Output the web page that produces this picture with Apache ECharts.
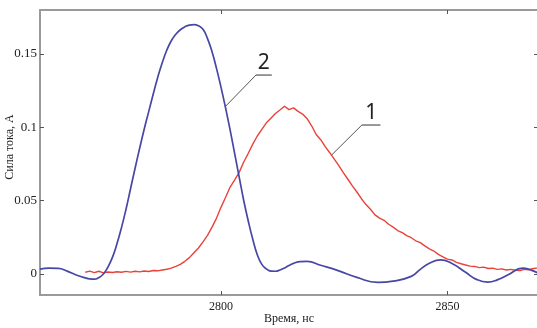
<!DOCTYPE html>
<html>
<head>
<meta charset="utf-8">
<script src="https://cdn.jsdelivr.net/npm/echarts@6/dist/echarts.min.js"></script>
<style>
  html, body { margin: 0; padding: 0; background: #ffffff; }
  #chart { width: 537px; height: 328px; }
</style>
</head>
<body>
<div id="chart"></div>
<script>
// Curve 1 (red): current sampled once per ns, starting at 2770 ns
const redStartTime = 2770;
const redValues = [
  0.0010, 0.0018, 0.0008, 0.0017, 0.0006, 0.0012, 0.0009, 0.0014, 0.0010, 0.0016,
  0.0011, 0.0017, 0.0013, 0.0019, 0.0015, 0.0022, 0.0020, 0.0026, 0.0031, 0.0038,
  0.0050, 0.0064, 0.0085, 0.0110, 0.0143, 0.0176, 0.0218, 0.0262, 0.0318, 0.0380,
  0.0455, 0.0522, 0.0592, 0.0640, 0.0692, 0.0763, 0.0822, 0.0885, 0.0940, 0.0985,
  0.1030, 0.1062, 0.1094, 0.1118, 0.1143, 0.1120, 0.1132, 0.1108, 0.1090, 0.1058,
  0.1010, 0.0950, 0.0915, 0.0868, 0.0826, 0.0782, 0.0738, 0.0690, 0.0645, 0.0600,
  0.0558, 0.0512, 0.0472, 0.0440, 0.0402, 0.0380, 0.0365, 0.0338, 0.0318, 0.0295,
  0.0281, 0.0260, 0.0246, 0.0225, 0.0212, 0.0190, 0.0170, 0.0155, 0.0132, 0.0116,
  0.0100, 0.0094, 0.0078, 0.0068, 0.0060, 0.0052, 0.0050, 0.0042, 0.0045, 0.0036,
  0.0038, 0.0030, 0.0033, 0.0026, 0.0030, 0.0024, 0.0022, 0.0030, 0.0027, 0.0036,
  0.0039
];

// Curve 2 (blue): smooth waveform
const blueTimes = [
  2760, 2762, 2764, 2766, 2768, 2770, 2771, 2772, 2773, 2774,
  2775, 2776, 2777, 2778, 2779, 2780, 2781, 2782, 2783, 2784,
  2785, 2786, 2787, 2788, 2789, 2790, 2791, 2792, 2793, 2794,
  2795, 2796, 2797, 2798, 2799, 2800, 2801, 2802, 2803, 2804,
  2805, 2806, 2807, 2808, 2809, 2810, 2811, 2812, 2813, 2814,
  2815, 2816, 2817.5, 2819, 2822, 2826, 2830, 2834.6, 2838, 2842,
  2844, 2846, 2848.5, 2851, 2854, 2856.5, 2858.9, 2861, 2863.5, 2866.6,
  2868.5, 2870
];
const blueValues = [
  0.0032, 0.0038, 0.0037, 0.0018, -0.0008, -0.0028, -0.0035, -0.0037, -0.0026, -0.0002,
  0.0045, 0.0112, 0.0205, 0.0315, 0.0440, 0.0580, 0.0720, 0.0855, 0.0985, 0.1105,
  0.1225, 0.1340, 0.1440, 0.1525, 0.1590, 0.1635, 0.1665, 0.1685, 0.1697, 0.1700,
  0.1692, 0.1668, 0.1605, 0.1515, 0.1400, 0.1270, 0.1130, 0.0980, 0.0820, 0.0660,
  0.0500, 0.0360, 0.0235, 0.0130, 0.0064, 0.0033, 0.0018, 0.0017, 0.0026, 0.0040,
  0.0057, 0.0071, 0.0083, 0.0084, 0.0058, 0.0020, -0.0025, -0.0059, -0.0050, -0.0018,
  0.0030, 0.0072, 0.0095, 0.0070, 0.0010, -0.0040, -0.0057, -0.0042, -0.0005, 0.0039,
  0.0025, 0.0005
];

// Axis ticks and titles
const xTicks = [2800, 2850];
const yTicks = [0, 0.05, 0.1, 0.15];
const xTitle = 'Время, нс';
const yTitle = 'Сила тока, А';

// Curve numbers with their leader lines, in data coordinates:
// underline start, underline end, point on the curve
const curveNames = ['1', '2'];
const underlineStart = [[2831.1, 0.1015], [2807.7, 0.1356]];
const underlineEnd = [[2835.2, 0.1015], [2811.2, 0.1356]];
const leaderTarget = [[2824.4, 0.0810], [2800.9, 0.1140]];

const redData = redValues.map((v, i) => [redStartTime + i, v]);
const blueData = blueTimes.map((t, i) => [t, blueValues[i]]);

const serif = '"Liberation Serif", "DejaVu Serif", serif';
const axisGray = '#9a9a9a';

const chart = echarts.init(document.getElementById('chart'), null, { renderer: 'canvas' });

const tickStyle = { show: true, inside: true, length: 4, lineStyle: { color: '#555', width: 1 } };
const gridBox = { left: 40, top: 10, width: 498, height: 285 };

chart.setOption({
  animation: false,
  backgroundColor: '#ffffff',
  grid: Object.assign({ containLabel: false, outerBoundsMode: 'none' }, gridBox),
  xAxis: [
    {
      type: 'value', min: 2760, max: 2870, position: 'bottom',
      axisLine: { show: true, onZero: false, lineStyle: { color: axisGray, width: 2 } },
      axisTick: Object.assign({ customValues: xTicks }, tickStyle),
      axisLabel: {
        customValues: xTicks, margin: 6, fontFamily: serif, fontSize: 12, color: '#222',
        formatter: v => String(v)
      },
      splitLine: { show: false }
    },
    {
      type: 'value', min: 2760, max: 2870, position: 'top',
      axisLine: { show: true, onZero: false, lineStyle: { color: axisGray, width: 2 } },
      axisTick: Object.assign({ customValues: xTicks }, tickStyle),
      axisLabel: { show: false },
      splitLine: { show: false }
    }
  ],
  yAxis: [
    {
      type: 'value', min: -0.0145, max: 0.18, position: 'left',
      axisLine: { show: true, onZero: false, lineStyle: { color: axisGray, width: 2 } },
      axisTick: Object.assign({ customValues: yTicks }, tickStyle),
      axisLabel: {
        customValues: yTicks, margin: 3, fontFamily: serif, fontSize: 13, color: '#222',
        formatter: v => String(v)
      },
      splitLine: { show: false }
    },
    {
      type: 'value', min: -0.0145, max: 0.18, position: 'right',
      axisLine: { show: true, onZero: false, lineStyle: { color: axisGray, width: 2 } },
      axisTick: Object.assign({ customValues: yTicks }, tickStyle),
      axisLabel: { show: false },
      splitLine: { show: false }
    }
  ],
  series: [
    {
      name: '1', type: 'line', data: redData, showSymbol: false, smooth: false,
      lineStyle: { color: '#e8433b', width: 1.4 }, z: 3
    },
    {
      name: '2', type: 'line', data: blueData, showSymbol: false, smooth: 0.5,
      lineStyle: { color: '#4747a6', width: 1.7 }, z: 4
    }
  ]
});

const graphics = [];

// Axis titles
graphics.push({
  type: 'text', silent: true,
  x: gridBox.left + gridBox.width / 2, y: gridBox.top + gridBox.height + 24,
  style: { text: xTitle, fill: '#222', fontFamily: serif, fontSize: 12, align: 'center', verticalAlign: 'middle' }
});
graphics.push({
  type: 'text', silent: true,
  x: 10, y: 147, rotation: Math.PI / 2,
  style: { text: yTitle, fill: '#222', fontFamily: serif, fontSize: 12, align: 'center', verticalAlign: 'middle' }
});

// Curve numbers: underlined digit with a thin leader line to its curve
curveNames.forEach((name, i) => {
  const a = chart.convertToPixel({ gridIndex: 0 }, underlineStart[i]);
  const b = chart.convertToPixel({ gridIndex: 0 }, underlineEnd[i]);
  const c = chart.convertToPixel({ gridIndex: 0 }, leaderTarget[i]);
  graphics.push({
    type: 'line', silent: true, z: 10,
    shape: { x1: a[0], y1: a[1], x2: c[0], y2: c[1] },
    style: { stroke: '#555555', lineWidth: 1 }
  });
  graphics.push({
    type: 'line', silent: true, z: 10,
    shape: { x1: a[0], y1: a[1], x2: b[0], y2: b[1] },
    style: { stroke: '#333333', lineWidth: 1 }
  });
  graphics.push({
    type: 'text', silent: true, z: 10,
    x: (a[0] + b[0]) / 2, y: a[1] - 2,
    style: {
      text: name, fill: '#222222', fontFamily: '"Noto Sans", "Open Sans", sans-serif',
      fontSize: 21, align: 'center', verticalAlign: 'bottom'
    }
  });
});
chart.setOption({ graphic: graphics });
</script>
</body>
</html>
